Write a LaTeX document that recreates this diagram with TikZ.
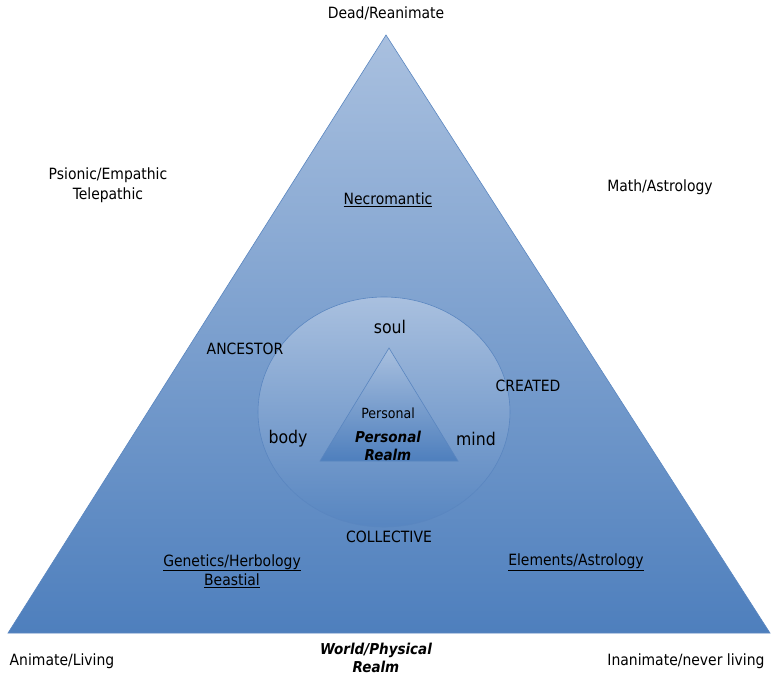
\documentclass[tikz,border=0pt]{standalone}
\usepackage{fontspec}
\setmainfont{DejaVu Sans Condensed}
\definecolor{paleblue}{HTML}{A9C0DF}
\definecolor{deepblue}{HTML}{4E7FBD}
\definecolor{rimblue}{HTML}{5A86C0}
\begin{document}
\begin{tikzpicture}[
        x=1pt, y=-1pt, % Координаты в пикселях рисунка
        rim/.style = {draw=rimblue, line width=0.6pt},
        lbl/.style = {font=\fontsize{15.5}{20}\selectfont, align=center, inner sep=0pt},
        big/.style = {font=\fontsize{17.5}{20}\selectfont, inner sep=0pt},
        realm/.style = {font=\fontsize{15}{18.5}\selectfont\bfseries\itshape, align=center, inner sep=0pt},
    ]
    \useasboundingbox (0,0) rectangle (775,678);

    % Большой треугольник
    \coordinate (top) at (386,35);
    \coordinate (left) at (8,633);
    \coordinate (right) at (770,633);
    \shade[rim, top color=paleblue, bottom color=deepblue] (top) -- (right) -- (left) -- cycle;

    % Круг
    \coordinate (hub) at (384,412);
    \shade[rim, top color=paleblue, bottom color=deepblue!95!white] (hub) ellipse [x radius=126, y radius=115];

    % Малый треугольник
    \coordinate (itop) at (389,348);
    \coordinate (ileft) at (320,461);
    \coordinate (iright) at (458,461);
    \shade[rim, top color=paleblue, bottom color=deepblue] (itop) -- (iright) -- (ileft) -- cycle;

    % Подписи
    \node[lbl] (dead) at (386,13) {Dead/Reanimate};
    \node[lbl] (psionic) at (108,185) {Psionic/Empathic\\Telepathic};
    \node[lbl] (math) at (660,187) {Math/Astrology};
    \node[lbl] (necro) at (388,200) {\underline{Necromantic}};
    \node[lbl] (ancestor) at (245,349) {ANCESTOR};
    \node[big] (soul) at (390,327) {soul};
    \node[lbl] (created) at (528,386) {CREATED};
    \node[lbl, font=\fontsize{14}{16}\selectfont] (personal) at (388,413) {Personal};
    \node[realm] (prealm) at (388,446) {Personal\\Realm};
    \node[big] (body) at (288,439) {body};
    \node[big] (mind) at (476,439) {mind};
    \node[lbl] (collective) at (389,537) {COLLECTIVE};
    \node[lbl, font=\fontsize{15.5}{19.5}\selectfont] (genetics) at (232,571) {\underline{Genetics/Herbology}\\\underline{Beastial}};
    \node[lbl] (elements) at (576,562) {\underline{Elements/Astrology}};
    \node[realm] (world) at (376,658) {World/Physical\\Realm};
    \node[lbl] (animate) at (62,661) {Animate/Living};
    \node[lbl] (inanimate) at (686,661) {Inanimate/never living};
\end{tikzpicture}
\end{document}
